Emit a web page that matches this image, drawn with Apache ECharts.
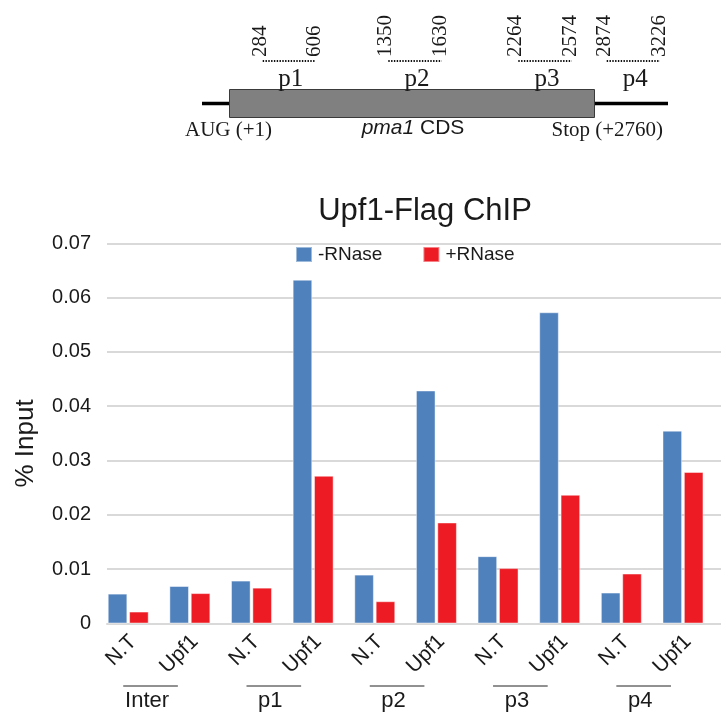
<!DOCTYPE html>
<html>
<head>
<meta charset="utf-8">
<script src="https://cdn.jsdelivr.net/npm/echarts@6/dist/echarts.min.js"></script>
<style>
  html, body { margin: 0; padding: 0; background: #ffffff; }
  #chart { width: 721px; height: 715px; }
</style>
</head>
<body>
<div id="chart"></div>
<script>
// ChIP sites: each region probed with the non-tagged (N.T) and Upf1-Flag strains
const sites = ['N.T', 'Upf1', 'N.T', 'Upf1', 'N.T', 'Upf1', 'N.T', 'Upf1', 'N.T', 'Upf1'];
const regions = ['Inter', 'p1', 'p2', 'p3', 'p4'];

// % input recovered, without and with RNase treatment
const minusRNase = [0.0055, 0.0069, 0.0079, 0.0633, 0.0090, 0.0429, 0.0124, 0.0573, 0.0057, 0.0355];
const plusRNase  = [0.0022, 0.0056, 0.0066, 0.0272, 0.0041, 0.0186, 0.0102, 0.0237, 0.0092, 0.0279];

// value axis ticks
const yMin = 0, yMax = 0.07, yStep = 0.01;

// pma1 gene map: primer pairs along the transcript
const probeNames = ['p1', 'p2', 'p3', 'p4'];
const probeStart = [284, 1350, 2264, 2874];
const probeEnd   = [606, 1630, 2574, 3226];

const BLUE = '#4F81BD';
const RED = '#ED1C24';
const GRID_GRAY = '#D9D9D9';
const SANS = '"Liberation Sans", Arial, sans-serif';
const SERIF = '"Liberation Serif", "Times New Roman", serif';
const INK = '#1a1a1a';

// schematic layout (pixels) for the gene map above the chart
const mapLine = { x1: 202, x2: 668, y: 103.5 };
const cdsBox = { x: 229.5, y: 89.5, w: 365, h: 28 };
const probeSpan = [[262.7, 315], [388.3, 441.7], [518.3, 571.7], [606.7, 660]];
const probeLineY = 61;

const chart = echarts.init(document.getElementById('chart'), null, { renderer: 'canvas' });

function buildMap() {
  const els = [];
  els.push({ type: 'line', shape: { x1: mapLine.x1, y1: mapLine.y, x2: mapLine.x2, y2: mapLine.y },
             style: { stroke: '#000', lineWidth: 3.5 }, z: 1 });
  els.push({ type: 'rect', shape: { x: cdsBox.x, y: cdsBox.y, width: cdsBox.w, height: cdsBox.h },
             style: { fill: '#808080', stroke: '#3a3a3a', lineWidth: 1 }, z: 2 });
  probeNames.forEach((name, i) => {
    const [a, b] = probeSpan[i];
    els.push({ type: 'line', shape: { x1: a, y1: probeLineY, x2: b, y2: probeLineY },
               style: { stroke: '#111', lineWidth: 2, lineDash: [1.4, 1.4] }, z: 2 });
    els.push({ type: 'text', x: (a + b) / 2 + 2, y: 79,
               style: { text: name, font: '25px ' + SERIF, fill: INK, align: 'center', verticalAlign: 'middle' }, z: 2 });
    [[a - 2.5, probeStart[i]], [b - 1, probeEnd[i]]].forEach(([x, v]) => {
      els.push({ type: 'text', x: x, y: 57, rotation: Math.PI / 2,
                 style: { text: String(v), font: '21px ' + SERIF, fill: INK, align: 'left', verticalAlign: 'middle' }, z: 2 });
    });
  });
  els.push({ type: 'text', x: 185, y: 130,
             style: { text: 'AUG (+1)', font: '21px ' + SERIF, fill: INK, align: 'left', verticalAlign: 'middle' } });
  els.push({ type: 'text', x: 551.5, y: 130,
             style: { text: 'Stop (+2760)', font: '21px ' + SERIF, fill: INK, align: 'left', verticalAlign: 'middle' } });
  els.push({ type: 'text', x: 413, y: 128,
             style: { text: '{i|pma1} CDS', font: '21px ' + SANS, fill: INK, align: 'center', verticalAlign: 'middle',
                      rich: { i: { fontStyle: 'italic', fontSize: 21, fontFamily: SANS, fill: INK } } } });
  return els;
}

const plotTop = 243.3, plotBottom = 91.5;
const barLeft = 97.4, barRight = 7.2;
const siteLabelShift = 5;

const option = {
  animation: false,
  backgroundColor: '#ffffff',
  title: {
    text: 'Upf1-Flag ChIP',
    left: 420, top: 191, textAlign: 'center',
    textStyle: { fontFamily: SANS, fontSize: 31, fontWeight: 'normal', color: INK }
  },
  legend: {
    data: ['-RNase', '+RNase'],
    left: 295, top: 245, padding: 0,
    itemWidth: 16, itemHeight: 15, itemGap: 40,
    icon: 'rect',
    textStyle: { fontFamily: SANS, fontSize: 19, color: INK, padding: [0, 0, 0, 1] }
  },
  grid: [
    // gridline frame
    { left: 107, right: 0, top: plotTop, bottom: plotBottom, containLabel: false },
    // bar area
    { left: barLeft, right: barRight, top: plotTop, bottom: plotBottom, containLabel: false },
    // slanted site labels, nudged right of their columns
    { left: barLeft + siteLabelShift, right: barRight - siteLabelShift, top: plotTop, bottom: plotBottom, containLabel: false }
  ],
  xAxis: [
    { gridIndex: 0, type: 'value', min: 0, max: 1, show: true,
      axisLine: { show: true, onZero: false, lineStyle: { color: GRID_GRAY, width: 2 } },
      axisTick: { show: false }, axisLabel: { show: false }, splitLine: { show: false } },
    { gridIndex: 1, type: 'category', data: sites, position: 'bottom',
      axisLine: { show: false }, axisTick: { show: false }, axisLabel: { show: false } },
    { gridIndex: 1, type: 'category', data: regions, position: 'bottom',
      axisLine: { show: false }, axisTick: { show: false },
      axisLabel: { interval: 0, margin: 66, padding: [0, 24, 0, 0],
                   fontFamily: SANS, fontSize: 22, color: INK } },
    { gridIndex: 2, type: 'category', data: sites, position: 'bottom',
      axisLine: { show: false }, axisTick: { show: false },
      axisLabel: { interval: 0, rotate: 45, margin: 15,
                   fontFamily: SANS, fontSize: 21, color: INK } }
  ],
  yAxis: [
    { gridIndex: 0, type: 'value', min: yMin, max: yMax, interval: yStep,
      name: '% Input', nameLocation: 'middle', nameGap: 68,
      nameTextStyle: { fontFamily: SANS, fontSize: 26, color: INK, padding: [0, 20, 0, 0] },
      axisLine: { show: false }, axisTick: { show: false },
      axisLabel: { margin: 16, fontFamily: SANS, fontSize: 20, color: INK,
                   formatter: v => (v === 0 ? '0' : v.toFixed(2)) },
      splitLine: { show: true, lineStyle: { color: GRID_GRAY, width: 2 } } },
    { gridIndex: 1, type: 'value', min: yMin, max: yMax, interval: yStep, show: false,
      splitLine: { show: false } },
    { gridIndex: 2, type: 'value', min: yMin, max: yMax, interval: yStep, show: false,
      splitLine: { show: false } }
  ],
  series: [
    { name: '-RNase', type: 'bar', xAxisIndex: 1, yAxisIndex: 1, data: minusRNase,
      barWidth: 19.6, barGap: '9%',
      itemStyle: { color: BLUE, borderColor: 'rgba(255,255,255,0.45)', borderWidth: 1 } },
    { name: '+RNase', type: 'bar', xAxisIndex: 1, yAxisIndex: 1, data: plusRNase,
      barWidth: 19.6, barGap: '9%',
      itemStyle: { color: RED, borderColor: 'rgba(255,255,255,0.45)', borderWidth: 1 } }
  ],
  graphic: buildMap()
};

chart.setOption(option);

// underline each region label, under its pair of site labels
const groupLineY = 686;
const underlines = regions.map((r, g) => {
  const x1 = chart.convertToPixel({ xAxisIndex: 1 }, 2 * g) - 5;
  const x2 = chart.convertToPixel({ xAxisIndex: 1 }, 2 * g + 1) - 12;
  return { type: 'line', shape: { x1: x1, y1: groupLineY, x2: x2, y2: groupLineY },
           style: { stroke: '#222', lineWidth: 1 } };
});
chart.setOption({ graphic: buildMap().concat(underlines) });
</script>
</body>
</html>
